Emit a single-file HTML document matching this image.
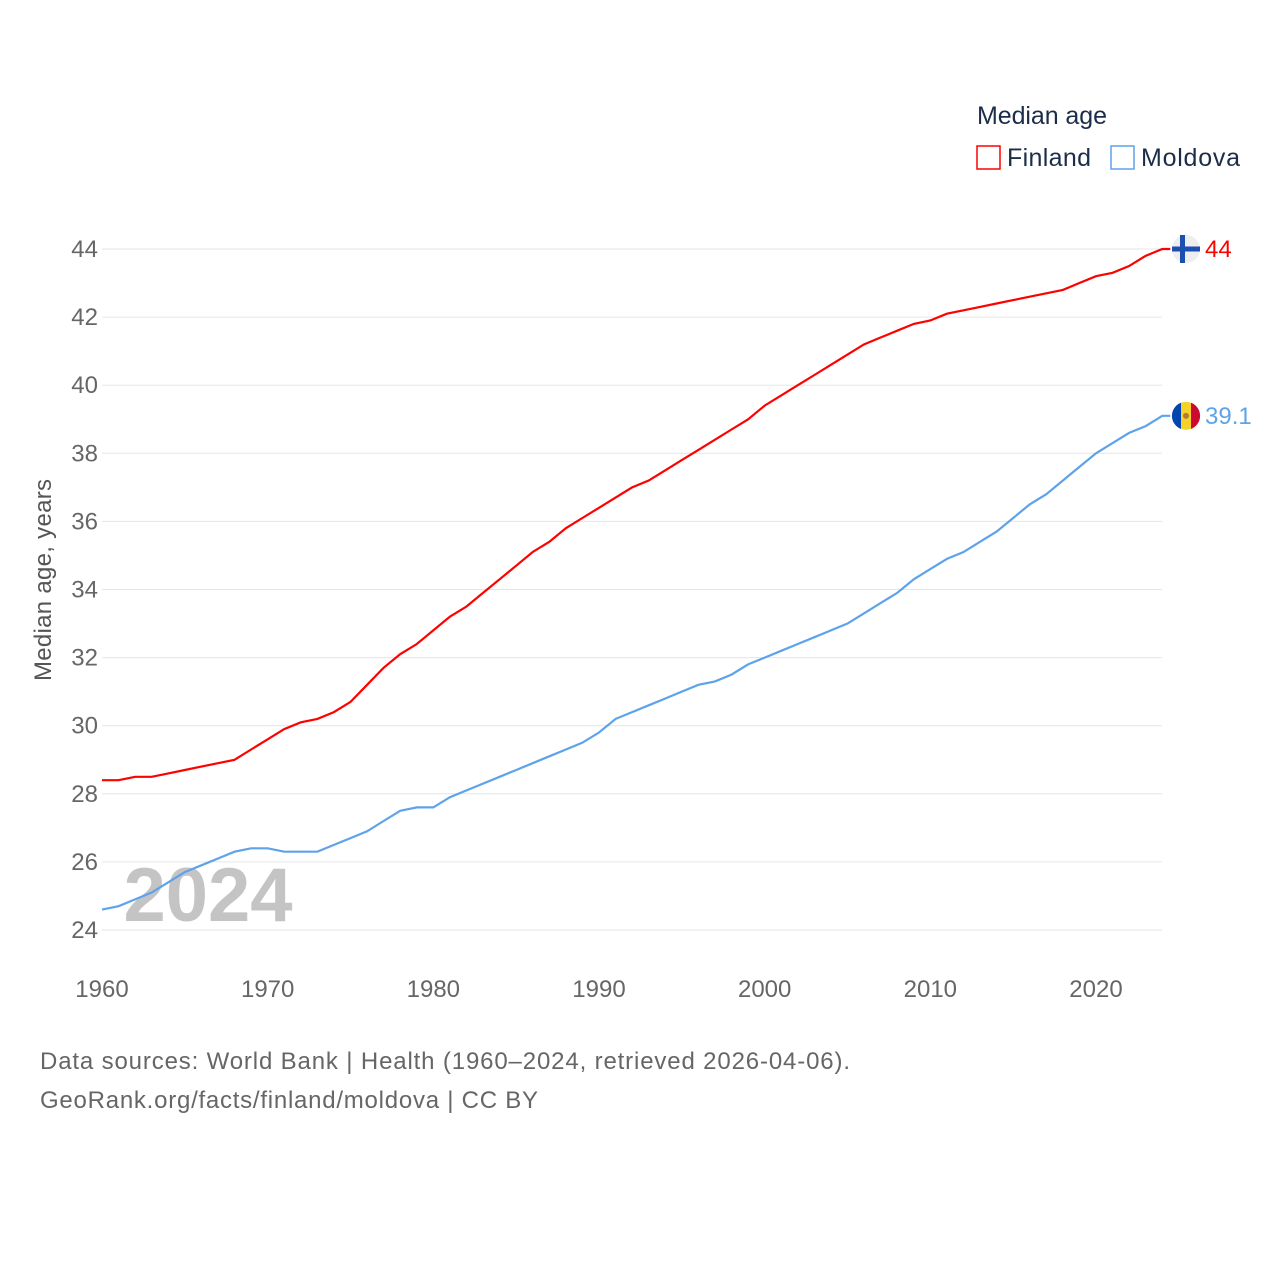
<!DOCTYPE html>
<html><head><meta charset="utf-8"><style>
body{margin:0;background:#fff;font-family:"Liberation Sans",sans-serif}
svg text{font-family:"Liberation Sans",sans-serif}
</style></head><body>
<svg id="c" width="1280" height="1280" xmlns="http://www.w3.org/2000/svg">
<g id="grid"></g>
<g id="yt"></g>
<g id="xt"></g>
<text x="208" y="921" font-size="76" font-weight="bold" fill="#c4c4c4" text-anchor="middle">2024</text>
<g id="lines"></g>
<text transform="translate(51,580) rotate(-90)" font-size="24" fill="#555" text-anchor="middle" textLength="202">Median age, years</text>
<text x="977" y="124" font-size="25" fill="#1c2d4a" textLength="130">Median age</text>
<g><rect x="977" y="146" width="23" height="23" fill="none" stroke="#ff0000" stroke-width="1.5"/><text x="1007" y="166" font-size="25" fill="#1c2d4a" textLength="84">Finland</text></g>
<g><rect x="1111" y="146" width="23" height="23" fill="none" stroke="#5ea3ea" stroke-width="1.5"/><text x="1141" y="166" font-size="25" fill="#1c2d4a" textLength="99">Moldova</text></g>
<g id="ends"></g>
<text x="40" y="1069" font-size="24" fill="#666" textLength="810">Data sources: World Bank | Health (1960–2024, retrieved 2026-04-06).</text>
<text x="40" y="1108" font-size="24" fill="#666" textLength="498">GeoRank.org/facts/finland/moldova | CC BY</text>
</svg>
<script>
const years=[];for(let y=1960;y<=2024;y++)years.push(y);
const finland=[28.4,28.4,28.5,28.5,28.6,28.7,28.8,28.9,29.0,29.3,29.6,29.9,30.1,30.2,30.4,30.7,31.2,31.7,32.1,32.4,32.8,33.2,33.5,33.9,34.3,34.7,35.1,35.4,35.8,36.1,36.4,36.7,37.0,37.2,37.5,37.8,38.1,38.4,38.7,39.0,39.4,39.7,40.0,40.3,40.6,40.9,41.2,41.4,41.6,41.8,41.9,42.1,42.2,42.3,42.4,42.5,42.6,42.7,42.8,43.0,43.2,43.3,43.5,43.8,44.0];
const moldova=[24.6,24.7,24.9,25.1,25.4,25.7,25.9,26.1,26.3,26.4,26.4,26.3,26.3,26.3,26.5,26.7,26.9,27.2,27.5,27.6,27.6,27.9,28.1,28.3,28.5,28.7,28.9,29.1,29.3,29.5,29.8,30.2,30.4,30.6,30.8,31.0,31.2,31.3,31.5,31.8,32.0,32.2,32.4,32.6,32.8,33.0,33.3,33.6,33.9,34.3,34.6,34.9,35.1,35.4,35.7,36.1,36.5,36.8,37.2,37.6,38.0,38.3,38.6,38.8,39.1];
const yTicks=[24,26,28,30,32,34,36,38,40,42,44];
const xTicks=[1960,1970,1980,1990,2000,2010,2020];
const X=y=>102+(y-1960)*(1096-102)/60;
const Y=v=>930-(v-24)*(930-249)/20;
const NS="http://www.w3.org/2000/svg";
function mk(t,a,p){const e=document.createElementNS(NS,t);for(const k in a)e.setAttribute(k,a[k]);p.appendChild(e);return e;}
const g=document.getElementById('grid'),yt=document.getElementById('yt'),xt=document.getElementById('xt');
yTicks.forEach(v=>{const l=mk('line',{x1:102,x2:1162,y1:Y(v),y2:Y(v),stroke:'#e6e6e6','stroke-width':1},g);


const t=mk('text',{x:98,y:Y(v)+8,'font-size':24,fill:'#666','text-anchor':'end'},yt);t.textContent=v;

});
xTicks.forEach(v=>{const t=mk('text',{x:X(v),y:997,'font-size':24,fill:'#666','text-anchor':'middle'},xt);t.textContent=v;

});
const L=document.getElementById('lines');
[[finland,'#ff0000','finland-line'],[moldova,'#5ea3ea','moldova-line']].forEach(([d,c,n])=>{
const p=mk('path',{d:d.map((v,i)=>(i?'L':'M')+X(years[i]).toFixed(1)+','+Y(v).toFixed(1)).join('')+'h8',fill:'none',stroke:c,'stroke-width':2.2},L);

});
const E=document.getElementById('ends');
const fy=Y(finland[finland.length-1]),my=Y(moldova[moldova.length-1]),ex=1186;
const f=mk('g',{},E);


mk('circle',{cx:ex,cy:fy,r:14,fill:'#eee'},f);
mk('rect',{x:ex-14,y:fy-2.5,width:28,height:5,fill:'#1b4fb0'},f);
mk('rect',{x:ex-6,y:fy-14,width:5,height:28,fill:'#1b4fb0'},f);
const ft=mk('text',{x:1205,y:fy+8,'font-size':24,fill:'#ff0000'},f);ft.textContent=finland[finland.length-1];
const m=mk('g',{},E);


mk('circle',{cx:ex,cy:my,r:14,fill:'#f5d12a'},m);
mk('path',{d:`M${ex-5},${my-13.1}A14,14 0 0 0 ${ex-5},${my+13.1}Z`,fill:'#0046ae'},m);
mk('path',{d:`M${ex+5},${my-13.1}A14,14 0 0 1 ${ex+5},${my+13.1}Z`,fill:'#cc092f'},m);
mk('circle',{cx:ex,cy:my,r:3,fill:'#b07a3a'},m);
const mt=mk('text',{x:1205,y:my+8,'font-size':24,fill:'#5ea3ea'},m);mt.textContent=moldova[moldova.length-1];
</script>
</body></html>
